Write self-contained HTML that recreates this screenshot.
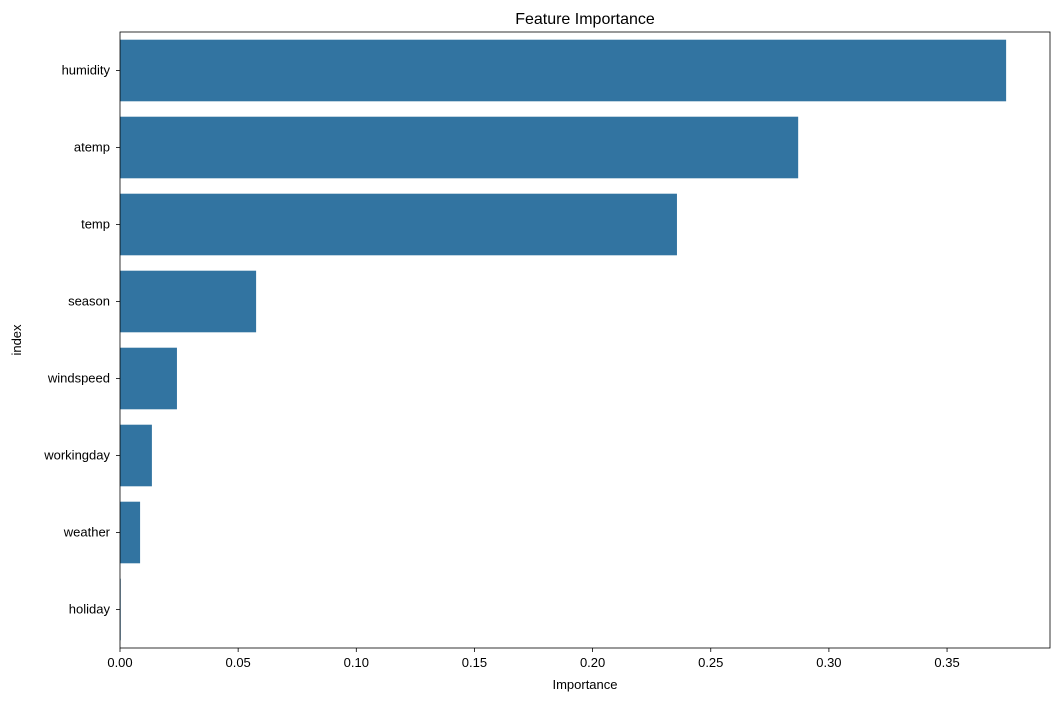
<!DOCTYPE html>
<html><head><meta charset="utf-8"><style>
body{margin:0;background:#fff;font-family:"Liberation Sans","DejaVu Sans",sans-serif;}
svg text{font-family:"Liberation Sans","DejaVu Sans",sans-serif;}
</style></head><body>
<svg id="chart" width="1060" height="701" xmlns="http://www.w3.org/2000/svg"></svg>
<script>
const categories=["humidity","atemp","temp","season","windspeed","workingday","weather","holiday"];
const importance=[0.375,0.287,0.2357,0.0576,0.0241,0.0135,0.0085,0.0003];
const xTicks=[0,0.05,0.10,0.15,0.20,0.25,0.30,0.35];
const xTickLabels=["0.00","0.05","0.10","0.15","0.20","0.25","0.30","0.35"];
const L=120,R=1050,T=32,B=648;
const xs=v=>L+v*2363;
const band=(B-T)/categories.length;
const yc=i=>T+band*(i+0.5);
const svg=document.getElementById('chart');
const NS="http://www.w3.org/2000/svg";
function mk(tag,attrs,txt){const e=document.createElementNS(NS,tag);for(const k in attrs)e.setAttribute(k,attrs[k]);if(txt!=null)e.textContent=txt;svg.appendChild(e);return e;}
categories.forEach((c,i)=>{
 const r=mk('rect',{x:L,y:yc(i)-band*0.4,width:Math.max(0,xs(importance[i])-L),height:band*0.8,fill:'#3274a1'});
 
 
 const t=mk('line',{x1:L-4,x2:L,y1:yc(i),y2:yc(i),stroke:'#000','stroke-width':0.8});
 
 
 const lb=mk('text',{x:L-10,y:yc(i)+4,'text-anchor':'end','font-size':13},c);
 
 
});
xTicks.forEach((v,i)=>{
 const t=mk('line',{x1:xs(v),x2:xs(v),y1:B,y2:B+4,stroke:'#000','stroke-width':0.8});
 
 
 const lb=mk('text',{x:xs(v),y:B+19,'text-anchor':'middle','font-size':13},xTickLabels[i]);
 
 
});
const fr=mk('rect',{x:L,y:T,width:R-L,height:B-T,fill:'none',stroke:'#000','stroke-width':0.8});


const ti=mk('text',{x:(L+R)/2,y:T-8,'text-anchor':'middle','font-size':16},'Feature Importance');


const xt=mk('text',{x:(L+R)/2,y:689,'text-anchor':'middle','font-size':13},'Importance');


const yt=mk('text',{x:21,y:(T+B)/2,'text-anchor':'middle','font-size':13,transform:'rotate(-90 21 '+((T+B)/2)+')'},'index');


</script>
</body></html>
